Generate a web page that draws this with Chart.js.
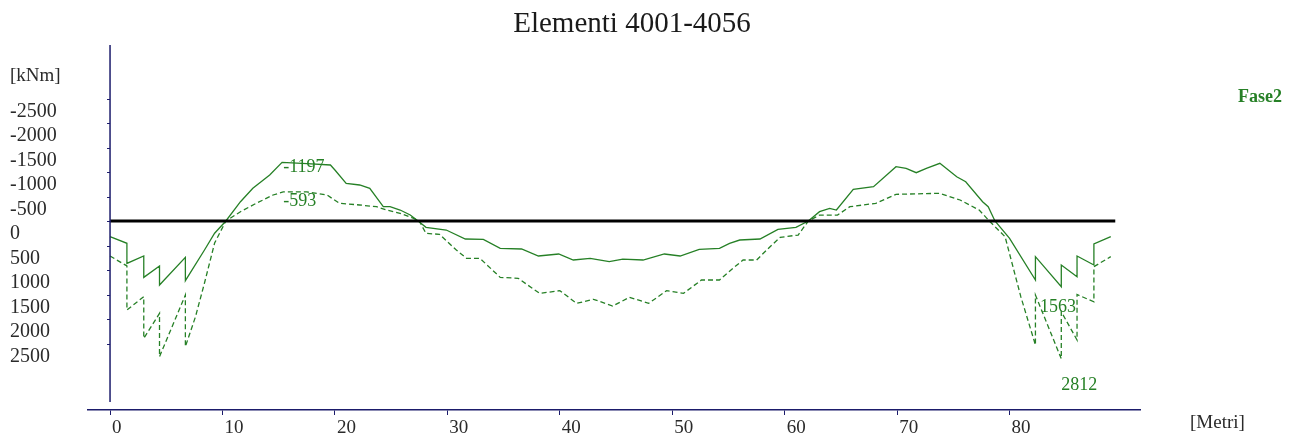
<!DOCTYPE html>
<html><head><meta charset="utf-8">
<script src="https://cdn.jsdelivr.net/npm/chart.js@4.4.0/dist/chart.umd.min.js"></script>
<style>html,body{margin:0;padding:0;background:#fff;} #wrap{width:1307px;height:439px;}</style>
</head><body><div id="wrap"><canvas id="c" width="1307" height="439"></canvas></div>
<script>
// ---- data (x in metres, moment in kNm; positive = downwards) ----
const solidX = [0, 1.5, 1.5, 3.0, 3.0, 4.4, 4.4, 6.7, 6.7, 8.4, 9.3, 10.3, 11.6, 12.7, 14.2, 15.3, 17.5, 19.6, 20.0, 21.0, 22.2, 23.1, 24.3, 24.9, 25.8, 26.7, 27.4, 28.1, 29.9, 31.6, 33.2, 34.7, 36.6, 38.1, 39.9, 41.2, 42.7, 44.4, 45.6, 47.4, 49.3, 50.7, 52.4, 54.2, 55.1, 56.0, 57.8, 59.4, 61.0, 62.1, 63.1, 64.0, 64.6, 66.1, 67.9, 69.9, 70.8, 71.7, 72.6, 73.8, 75.3, 76.1, 77.6, 78.1, 78.7, 80.0, 82.3, 82.3, 84.6, 84.6, 86.0, 86.0, 87.5, 87.5, 89.0];
const solidY = [320, 455, 865, 714, 1150, 918, 1306, 741, 1218, 592, 250, 0, -394, -667, -939, -1197, -1170, -1143, -1041, -769, -735, -667, -292, -292, -224, -122, 0, 130, 184, 367, 374, 558, 571, 714, 673, 796, 762, 830, 776, 796, 673, 714, 578, 558, 455, 388, 367, 170, 130, 0, -190, -258, -224, -646, -700, -1108, -1075, -986, -1075, -1177, -904, -802, -394, -292, 0, 354, 1204, 728, 1340, 898, 1136, 714, 898, 469, 320];
const dashX = [0, 1.5, 1.5, 3.0, 3.0, 4.4, 4.4, 6.7, 6.7, 7.6, 8.4, 9.3, 10.3, 11.6, 13.0, 14.5, 15.4, 17.5, 19.3, 20.4, 22.2, 23.7, 24.6, 25.8, 27.0, 27.5, 28.1, 29.3, 30.8, 31.7, 32.9, 34.7, 36.3, 38.2, 40.0, 41.5, 43.0, 44.7, 46.2, 47.9, 49.5, 51.0, 52.6, 54.2, 55.4, 56.3, 57.5, 58.7, 59.6, 61.2, 62.1, 63.1, 64.7, 65.8, 68.1, 69.9, 73.8, 75.6, 77.3, 78.2, 79.6, 80.3, 81.0, 82.3, 82.3, 84.6, 84.6, 86.0, 86.0, 87.5, 87.5, 89.0];
const dashY = [714, 918, 1816, 1544, 2395, 1884, 2769, 1510, 2565, 1953, 1265, 450, 0, -190, -361, -531, -593, -593, -531, -361, -327, -292, -224, -157, -55, 0, 252, 272, 592, 762, 762, 1150, 1170, 1476, 1422, 1680, 1598, 1735, 1557, 1680, 1422, 1476, 1204, 1204, 966, 796, 796, 524, 333, 286, 0, -122, -122, -292, -361, -545, -565, -429, -224, 0, 320, 932, 1544, 2531, 1510, 2812, 1850, 2429, 1500, 1650, 932, 728];
const zeroLineX = [0, 89.4];
const zeroLineY = [0, 0];
const xTicks = [0, 10, 20, 30, 40, 50, 60, 70, 80];
const yTicks = [-2500, -2000, -1500, -1000, -500, 0, 500, 1000, 1500, 2000, 2500];
const noteTexts = ['-1197', '-593', '1563', '2812'];
const noteX = [15.4, 15.4, 82.7, 84.6];
const noteY = [-1102, -408, 1755, 3347];
const titleText = 'Elementi 4001-4056';
const seriesName = 'Fase2';
const yUnit = '[kNm]';
const xUnit = '[Metri]';

const GREEN = 'rgb(38,128,38)';
const NAVY = '#1b1b6b';
const SERIF = '"Liberation Serif", "Times New Roman", serif';

const pts = (xs, ys) => xs.map((x, i) => ({x: x, y: ys[i]}));

const extras = {
  id: 'extras',
  afterDatasetsDraw(chart) {
    const ctx = chart.ctx, xs = chart.scales.x, ys = chart.scales.y, ca = chart.chartArea;
    const x0 = xs.getPixelForValue(0);
    ctx.save();
    // y axis line
    ctx.strokeStyle = NAVY; ctx.lineWidth = 1.5;
    ctx.beginPath(); ctx.moveTo(x0, ca.top); ctx.lineTo(x0, ca.bottom - 8); ctx.stroke();
    ctx.lineWidth = 1;
    yTicks.forEach(v => {
      const p = Math.round(ys.getPixelForValue(v)) + 0.5;
      ctx.beginPath(); ctx.moveTo(x0 - 3, p); ctx.lineTo(x0, p); ctx.stroke();
    });
    // notes
    ctx.fillStyle = GREEN; ctx.font = '18px ' + SERIF; ctx.textAlign = 'left'; ctx.textBaseline = 'middle';
    noteTexts.forEach((t, i) => ctx.fillText(t, xs.getPixelForValue(noteX[i]), ys.getPixelForValue(noteY[i])));
    // title
    ctx.fillStyle = '#1a1a1a'; ctx.font = '29px ' + SERIF; ctx.textAlign = 'center';
    ctx.fillText(titleText, 632, 24);
    // units
    ctx.fillStyle = '#2a2a2a'; ctx.font = '19px ' + SERIF; ctx.textAlign = 'left';
    ctx.fillText(yUnit, 10, 76);
    ctx.font = '19px ' + SERIF;
    ctx.fillText(xUnit, 1190, 423);
    // series name
    ctx.fillStyle = GREEN; ctx.font = 'bold 18px ' + SERIF;
    ctx.fillText(seriesName, 1238, 97);
    ctx.restore();
  }
};

new Chart(document.getElementById('c'), {
  type: 'line',
  data: {
    datasets: [
      {label: 'zero', data: pts(zeroLineX, zeroLineY), borderColor: '#000', borderWidth: 3, pointRadius: 0, fill: false},
      {label: seriesName, data: pts(solidX, solidY), borderColor: GREEN, borderWidth: 1.3, pointRadius: 0, fill: false, tension: 0},
      {label: seriesName + ' b', data: pts(dashX, dashY), borderColor: GREEN, borderWidth: 1.3, borderDash: [5, 3], pointRadius: 0, fill: false, tension: 0}
    ]
  },
  options: {
    responsive: false, animation: false, devicePixelRatio: 1,
    layout: {padding: {left: 10, right: 167, top: 45, bottom: 0}},
    plugins: {legend: {display: false}, title: {display: false}, tooltip: {enabled: false}},
    scales: {
      x: {
        type: 'linear', min: -1.96, max: 91.6,
        afterBuildTicks: s => { s.ticks = xTicks.map(v => ({value: v})); },
        afterFit: s => { s.height = 29; },
        ticks: {align: 'start', autoSkip: false, maxRotation: 0, padding: 2, labelOffset: 2, color: '#2a2a2a', font: {family: SERIF, size: 19}, callback: v => String(v)},
        grid: {display: true, drawOnChartArea: false, drawTicks: true, tickLength: 5, color: NAVY},
        border: {display: true, color: NAVY, width: 1.5}
      },
      y: {
        type: 'linear', reverse: true, min: -3592, max: 3857,
        afterBuildTicks: s => { s.ticks = yTicks.map(v => ({value: v})); },
        afterFit: s => { s.width = 78; },
        ticks: {crossAlign: 'far', labelOffset: 13, autoSkip: false, color: '#2a2a2a', font: {family: SERIF, size: 20}, callback: v => String(v)},
        grid: {display: false},
        border: {display: false}
      }
    }
  },
  plugins: [extras]
});
</script>
</body></html>
